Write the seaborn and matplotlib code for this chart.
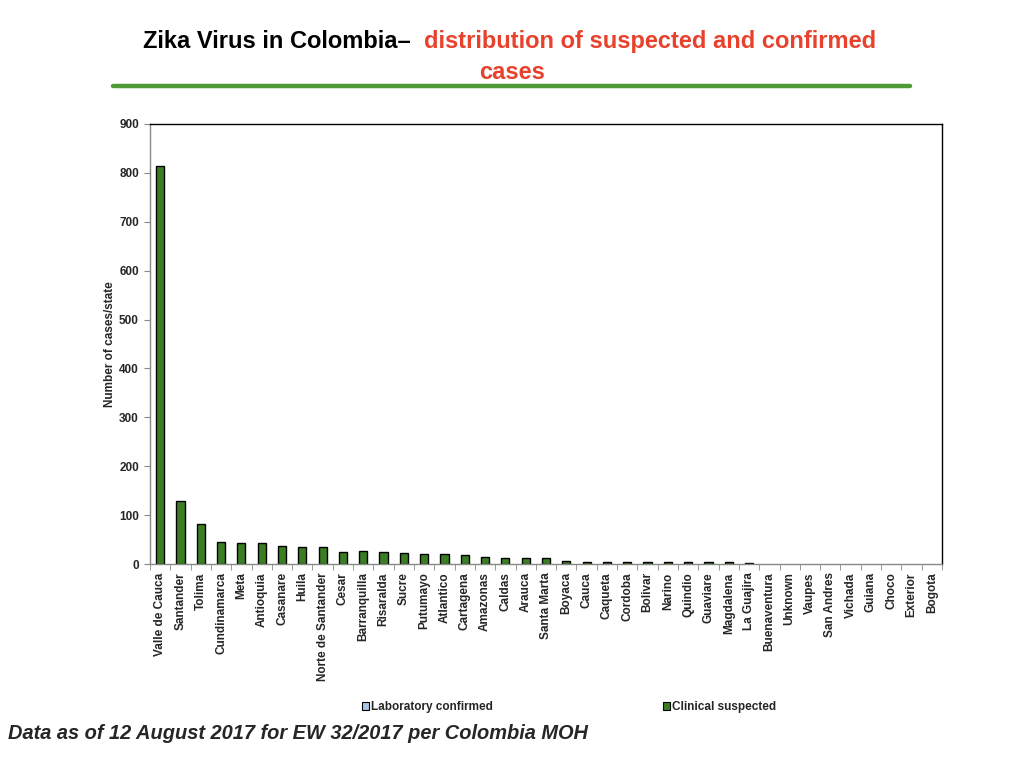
import matplotlib
matplotlib.use("Agg")
import matplotlib.pyplot as plt
import seaborn as sns
import pandas as pd
from matplotlib.patches import Patch
from matplotlib.lines import Line2D

# Data
states = ["Valle de Cauca", "Santander", "Tolima", "Cundinamarca", "Meta", "Antioquia",
          "Casanare", "Huila", "Norte de Santander", "Cesar", "Barranquilla", "Risaralda",
          "Sucre", "Putumayo", "Atlantico", "Cartagena", "Amazonas", "Caldas", "Arauca",
          "Santa Marta", "Boyaca", "Cauca", "Caqueta", "Cordoba", "Bolivar", "Narino",
          "Quindio", "Guaviare", "Magdalena", "La Guajira", "Buenaventura", "Unknown",
          "Vaupes", "San Andres", "Vichada", "Guiana", "Choco", "Exterior", "Bogota"]
clinical_suspected = [813, 128, 82, 46, 44, 42, 36, 34, 34, 24, 26, 24, 22, 20, 20, 18,
                      14, 12, 12, 12, 7, 5, 5, 5, 5, 4, 4, 4, 4, 2, 0, 0, 0, 0, 0, 0, 0, 0, 0]
lab_confirmed = [0] * len(states)

df = pd.DataFrame({"state": states, "clinical": clinical_suspected, "lab": lab_confirmed})

sns.set_style("white")
plt.rcParams["font.family"] = ["Liberation Sans", "DejaVu Sans"]

bar_green = "#3a7d22"
lab_blue = "#a9c4e6"

fig = plt.figure(figsize=(10.24, 7.68), dpi=100)
ax = fig.add_axes([0.1465, 0.2656, 0.7734, 0.573])

sns.barplot(data=df, x="state", y="lab", color=lab_blue, width=0.4,
            edgecolor="black", linewidth=1, ax=ax, saturation=1)
sns.barplot(data=df, x="state", y="clinical", color=bar_green, width=0.4,
            edgecolor="black", linewidth=1, ax=ax, saturation=1)

# empty categories show no outline
for p in ax.patches:
    if p.get_height() == 0:
        p.set_linewidth(0)

ax.set_ylim(0, 900)
ax.set_xlim(-0.5, len(states) - 0.5)
ax.set_yticks(range(0, 901, 100))
ax.set_yticklabels([str(v) for v in range(0, 901, 100)], fontsize=8.5, fontweight="bold")
ax.set_xticks(range(len(states)))
ax.set_xticklabels(states, rotation=90, fontsize=8.5, fontweight="bold")
ax.set_xticks([i - 0.5 for i in range(len(states) + 1)], minor=True)
ax.tick_params(axis="x", which="major", length=0, pad=6)
ax.tick_params(axis="x", which="minor", length=4, color="#888888", bottom=True)
ax.tick_params(axis="y", length=4, color="#888888", left=True, pad=4)
ax.set_xlabel("")
ax.set_ylabel("Number of cases/state", fontsize=8.5, fontweight="bold")
ax.yaxis.set_label_coords(-0.043, 0.5)

for side in ["left", "bottom"]:
    ax.spines[side].set_color("#888888")
for side in ["top", "right"]:
    ax.spines[side].set_color("black")
for sp in ax.spines.values():
    sp.set_linewidth(1)

# Legend spread under the axis
h1 = [Patch(facecolor=lab_blue, edgecolor="black", linewidth=0.8)]
h2 = [Patch(facecolor=bar_green, edgecolor="black", linewidth=0.8)]
fig.legend(h1, ["Laboratory confirmed"], loc="center left",
           bbox_to_anchor=(0.343, 0.079), frameon=False, handlelength=0.6,
           handleheight=0.6, handletextpad=0.2, prop={"size": 8.5, "weight": "bold"})
fig.legend(h2, ["Clinical suspected"], loc="center left",
           bbox_to_anchor=(0.637, 0.079), frameon=False, handlelength=0.6,
           handleheight=0.6, handletextpad=0.2, prop={"size": 8.5, "weight": "bold"})

# Title in two colours
fig.text(0.140, 0.946, "Zika Virus in Colombia\u2013", fontsize=17, fontweight="bold",
         color="black", ha="left", va="center")
fig.text(0.414, 0.946, "distribution of suspected and confirmed", fontsize=17,
         fontweight="bold", color="#e8412c", ha="left", va="center")
fig.text(0.5, 0.906, "cases", fontsize=17, fontweight="bold", color="#e8412c",
         ha="center", va="center")
fig.add_artist(Line2D([0.110, 0.889], [0.888, 0.888], color="#4f9a35", linewidth=3.2,
                      transform=fig.transFigure))

fig.text(0.008, 0.045, "Data as of 12 August 2017 for EW 32/2017 per Colombia MOH",
         fontsize=14.4, fontweight="bold", fontstyle="italic", ha="left", va="center")

fig.savefig("out.png", dpi=100)
